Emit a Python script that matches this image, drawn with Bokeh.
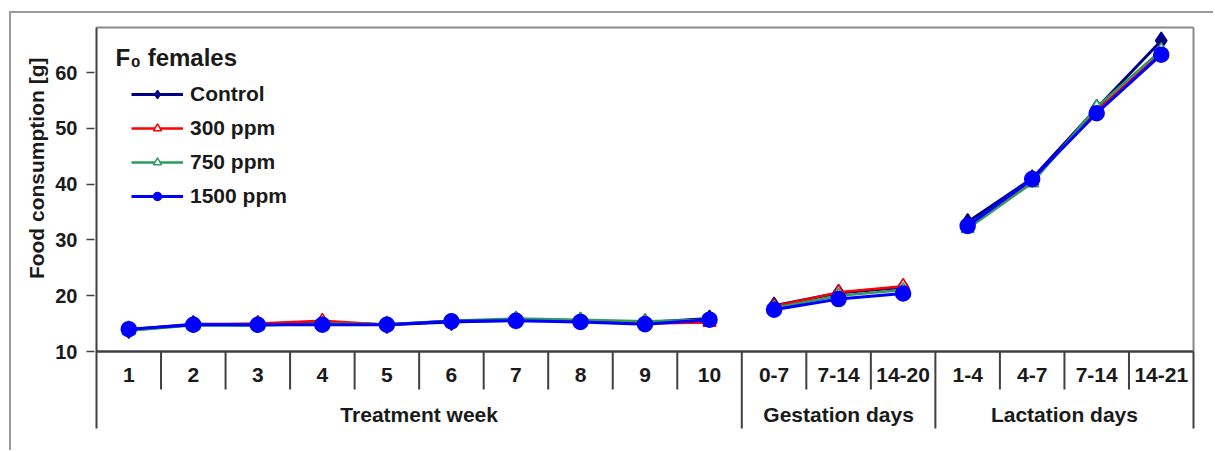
import math
from bokeh.plotting import figure
from bokeh.models import Range1d, FixedTicker, Label, Legend, LegendItem, Title
from bokeh.core.properties import value
from bokeh.embed import file_html
from bokeh.resources import INLINE

# ---------------- data ----------------
categories = ["1", "2", "3", "4", "5", "6", "7", "8", "9", "10",
              "0-7", "7-14", "14-20",
              "1-4", "4-7", "7-14", "14-21"]
groups = ["Treatment week", "Gestation days", "Lactation days"]
group_sizes = [10, 3, 4]

series_names = ["Control", "300 ppm", "750 ppm", "1500 ppm"]
control = [13.9, 14.9, 14.9, 15.2, 14.8, 15.3, 15.6, 15.5, 15.2, 15.9,
           18.2, 20.5, 21.5, 33.2, 41.0, 53.6, 65.7]
ppm300 = [13.8, 14.8, 15.0, 15.5, 14.8, 15.5, 15.6, 15.4, 15.0, 15.2,
          18.1, 20.6, 21.7, 32.5, 40.6, 53.2, 63.5]
ppm750 = [13.7, 14.7, 14.6, 15.0, 14.9, 15.5, 15.9, 15.7, 15.4, 15.7,
          17.8, 20.0, 21.0, 32.0, 40.2, 53.8, 64.0]
ppm1500 = [14.0, 14.8, 14.8, 14.8, 14.8, 15.4, 15.5, 15.3, 14.9, 15.7,
           17.5, 19.4, 20.4, 32.5, 40.9, 52.7, 63.2]
y_ticks = [10, 20, 30, 40, 50, 60]
y_axis_title = "Food consumption [g]"
legend_title = "F\u2080 females"

# ---------------- geometry ----------------
OX, OY = 11, 13                    # canvas origin on the page (after grey border)
W, H = 1215 - OX, 452 - OY
# page coordinates -> canvas coordinates
PLOT_L, PLOT_R = 96 - OX, 1193 - OX   # x = 0 and x = n
Y10, Y60 = 351 - OY, 72 - OY          # pixel rows of 10 and 60
PLOT_T = 27 - OY                      # top border of plot area
SEP_B = 428 - OY                      # bottom of group separators
CAT_B = 389 - OY                      # bottom of category separators
FRAME_L, FRAME_R, FRAME_T, FRAME_B = PLOT_L - 2, PLOT_R + 2, PLOT_T - 2, SEP_B + 2

n = len(categories)
ppx = (PLOT_R - PLOT_L) / n
ppy = (Y10 - Y60) / (y_ticks[-1] - y_ticks[0])
ybase = y_ticks[0]


def yv(py):
    return ybase + (Y10 - py) / ppy


x_start = -(PLOT_L - FRAME_L) / ppx
x_end = n + (FRAME_R - PLOT_R) / ppx
y_start = yv(FRAME_B)
y_end = yv(FRAME_T)

FONT = "Liberation Sans"
TXT = "#1a1a1a"
DARK = "#404040"
GRAY = "#8a8a8a"

p = figure(width=W, height=H, output_backend="svg", toolbar_location=None,
           x_range=Range1d(x_start, x_end), y_range=Range1d(y_start, y_end),
           x_axis_location=None,
           min_border_left=FRAME_L, min_border_right=W - FRAME_R,
           min_border_top=FRAME_T, min_border_bottom=H - FRAME_B,
           styles={"margin-left": "9px", "margin-top": "11px",
                   "border-left": "2px solid #9a9a9a",
                   "border-top": "2px solid #9a9a9a"})
p.outline_line_color = None
p.xgrid.visible = False
p.ygrid.visible = False
p.background_fill_color = "white"
p.border_fill_color = "white"

yax = p.yaxis[0]
yax.ticker = FixedTicker(ticks=y_ticks)
yax.axis_line_color = None
yax.major_tick_out = 8
yax.major_tick_in = 0
yax.minor_tick_line_color = None
yax.major_tick_line_color = DARK
yax.major_tick_line_width = 1.5
yax.major_label_text_font = FONT
yax.major_label_text_font_style = "bold"
yax.major_label_text_font_size = "20px"
yax.major_label_text_color = TXT
yax.major_label_standoff = 9

p.add_layout(Title(text=y_axis_title, align="right", offset=32,
                   text_font=FONT, text_font_style="bold",
                   text_font_size="21px", text_color=TXT), "left")

# ---------------- frame / separators ----------------
top_v = yv(PLOT_T)
sep_v = yv(SEP_B)
cat_v = yv(CAT_B)

bounds = [0]
for s in group_sizes:
    bounds.append(bounds[-1] + s)

# plot area border (top, right gray; left dark)
p.segment(x0=[0], y0=[top_v], x1=[n], y1=[top_v], line_color=GRAY, line_width=2)
p.segment(x0=[n], y0=[ybase], x1=[n], y1=[top_v], line_color=GRAY, line_width=2)
p.segment(x0=[0], y0=[sep_v], x1=[0], y1=[top_v], line_color=DARK, line_width=2)
# group separators
p.segment(x0=bounds[1:], y0=[sep_v] * (len(bounds) - 1), x1=bounds[1:],
          y1=[ybase] * (len(bounds) - 1), line_color=DARK, line_width=2)
# category separators
inner = [i for i in range(1, n) if i not in bounds]
p.segment(x0=inner, y0=[cat_v] * len(inner), x1=inner, y1=[ybase] * len(inner),
          line_color=DARK, line_width=2)
# category axis line
p.segment(x0=[0], y0=[ybase], x1=[n], y1=[ybase], line_color=DARK, line_width=2.5)

# category labels
p.text(x=[i + 0.5 for i in range(n)], y=[ybase] * n, text=categories,
       y_offset=23, text_align="center", text_baseline="middle",
       text_font=value(FONT), text_font_style="bold", text_font_size="21px",
       text_color=TXT)
# group labels
gx = [(bounds[i] + bounds[i + 1]) / 2 for i in range(len(groups))]
p.text(x=gx, y=[ybase] * len(groups), text=groups,
       y_offset=63, text_align="center", text_baseline="middle",
       text_font=value(FONT), text_font_style="bold", text_font_size="21px",
       text_color=TXT)

# ---------------- series ----------------
def with_breaks(vals):
    xs, ys = [], []
    for gi in range(len(group_sizes)):
        if gi > 0:
            xs.append(float("nan"))
            ys.append(float("nan"))
        for i in range(bounds[gi], bounds[gi + 1]):
            xs.append(i + 0.5)
            ys.append(vals[i])
    return xs, ys


styles = [
    (control, "#000080", "diamond", 17, "#000080", 3),
    (ppm300, "#ff0000", "triangle", 13, "white", 2.5),
    (ppm750, "#2e9a5e", "triangle", 13, "white", 2.5),
    (ppm1500, "#0000ff", "circle", 15, "#0000ff", 3),
]
items = []
for name, (vals, col, mk, sz, fill, lw) in zip(series_names, styles):
    xs, ys = with_breaks(vals)
    r1 = p.line(xs, ys, line_color=col, line_width=lw)
    r2 = p.scatter([i + 0.5 for i in range(n)], vals, marker=mk, size=sz,
                   line_color=col, fill_color=fill, line_width=1.5)
    items.append(LegendItem(label=name, renderers=[r1, r2]))

leg = Legend(items=items, location=(37, 222), padding=0, margin=0,
             spacing=10, glyph_width=52, glyph_height=20, label_height=20,
             label_standoff=7, border_line_color=None,
             background_fill_alpha=0,
             label_text_font=FONT, label_text_font_style="bold",
             label_text_font_size="21px", label_text_color=TXT)
p.add_layout(leg, "center")

p.add_layout(Label(x=21, y=373, x_units="screen", y_units="screen",
                   text=legend_title, text_font=FONT, text_font_style="bold",
                   text_font_size="24px", text_color=TXT,
                   text_baseline="alphabetic"), "center")

open("out.html", "w").write(file_html(p, INLINE))
